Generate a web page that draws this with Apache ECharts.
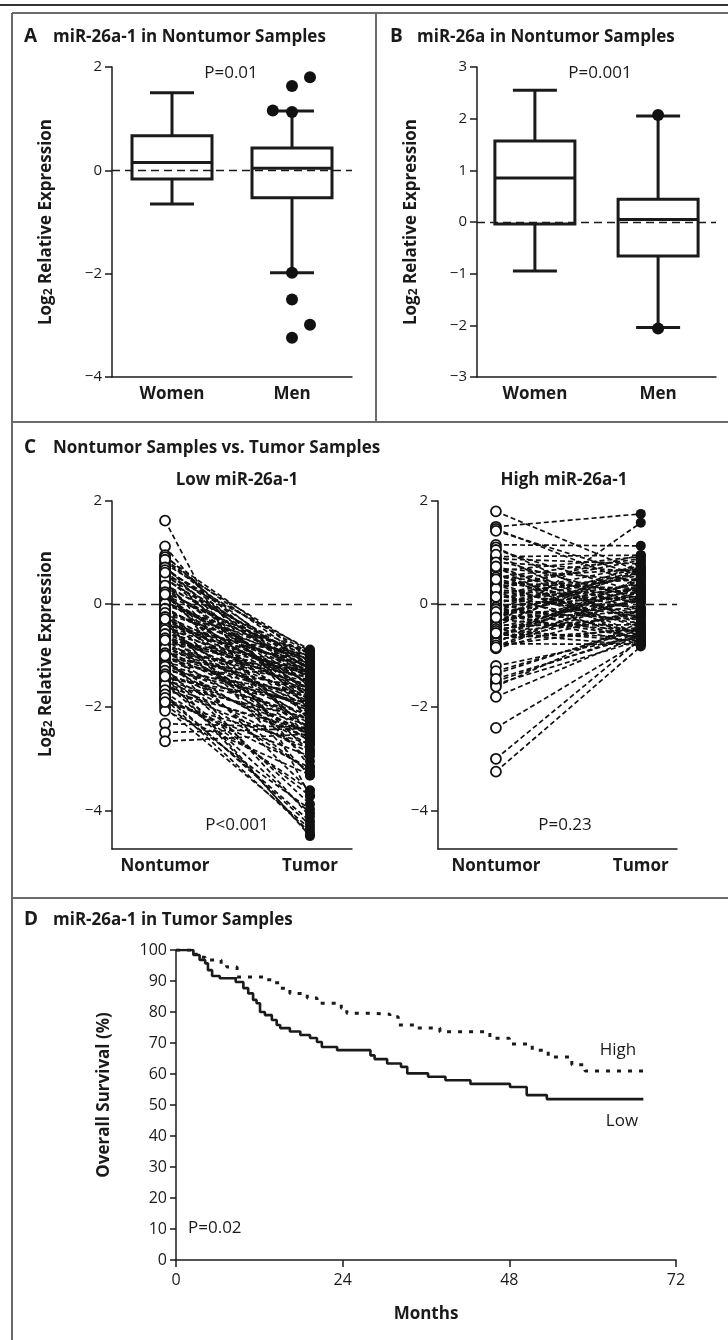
<!DOCTYPE html>
<html><head><meta charset="utf-8">
<script src="https://cdn.jsdelivr.net/npm/echarts@6/dist/echarts.min.js"></script>
<style>html,body{margin:0;padding:0;background:#fff}#c{width:728px;height:1340px}</style>
</head><body><div id="c"></div>
<script>
// ---------------- DATA ----------------
const sexCategories = ['Women', 'Men'];
const pairCategories = ['Nontumor', 'Tumor'];
// box plots: [min, Q1, median, Q3, max]
const boxA = [[-0.65, -0.17, 0.15, 0.67, 1.5], [-1.98, -0.53, 0.04, 0.43, 1.15]];
const outlierAx = [2, 1.84, 2, 2.15, 2, 2, 2.15, 2];
const outlierAy = [1.13, 1.16, 1.63, 1.8, -1.98, -2.5, -2.99, -3.24];
const boxB = [[-0.95, -0.04, 0.85, 1.57, 2.55], [-2.04, -0.66, 0.05, 0.44, 2.05]];
const outlierBx = [2, 2];
const outlierBy = [2.07, -2.06];
const yTicksA = [-4, -2, 0, 2];
const yTicksB = [-3, -2, -1, 0, 1, 2, 3];
const yTicksC = [-4, -2, 0, 2];

// Panel C, paired samples
const lowNontumor = [1.62, 1.12, 0.95, 0.91, 0.84, 0.78, 0.74, 0.69, 0.63, 0.58, 0.52, 0.47, 0.44, 0.39, 0.33, 0.31, 0.26, 0.21, 0.17, 0.12, 0.08, 0.04, -0.02, -0.06, -0.11, -0.14, -0.19, -0.23, -0.27, -0.31, -0.36, -0.38, -0.43, -0.47, -0.52, -0.55, -0.61, -0.64, -0.68, -0.72, -0.77, -0.81, -0.84, -0.88, -0.93, -0.97, -1.02, -1.06, -1.11, -1.14, -1.19, -1.24, -1.27, -1.33, -1.38, -1.42, -1.47, -1.53, -1.58, -1.63, -1.71, -1.79, -1.84, -1.88, -1.95, -2.01, -2.07, -2.32, -2.49, -2.66, 0.55, 0.05, -0.4, -0.9, -1.3, -0.2, 0.3, -0.6,
  0.86, 0.71, 0.66, 0.49, 0.36, 0.23, 0.14, 0.01, -0.09, -0.17, -0.25, -0.33, -0.45, -0.5, -0.58, -0.66, -0.74, -0.79, -0.86, -0.95, -0.99, -1.04, -1.09, -1.17, -1.21, -1.29, -1.36, -1.44, -1.51, -1.56, -1.67, -1.75, -1.82, -1.9, 0.61, 0.19, -0.29, -0.7, -1.0, -1.4];
const lowTumor = [-3.72, -2.28, -1.62, -1.05, -1.31, -0.92, -2.05, -1.18, -1.47, -0.88, -1.76, -1.12, -2.62, -1.35, -0.97, -1.58, -1.24, -2.21, -1.02, -1.44, -1.87, -1.15, -0.94, -1.66, -1.29, -2.43, -1.08, -1.52, -1.94, -1.21, -3.05, -1.39, -1.71, -0.99, -2.12, -1.33, -1.84, -1.48, -2.67, -1.26, -1.97, -1.57, -3.62, -1.42, -2.31, -1.69, -2.02, -1.81, -2.74, -1.62, -2.25, -3.88, -1.93, -2.48, -2.14, -3.24, -2.36, -4.05, -2.58, -2.81, -3.61, -4.21, -4.42, -2.95, -3.98, -4.35, -3.31, -2.39, -2.41, -2.52, -1.19, -1.36, -1.05, -2.18, -4.5, -2.86, -3.15, -2.55,
  -1.12, -1.41, -0.95, -1.27, -1.83, -1.09, -1.68, -1.22, -1.54, -0.91, -1.77, -1.46, -2.27, -1.14, -1.62, -2.08, -1.35, -2.41, -1.88, -1.28, -2.56, -1.49, -3.27, -1.99, -2.64, -1.73, -2.89, -1.91, -3.72, -2.22, -2.47, -4.28, -3.17, -2.71, -2.01, -2.49, -3.33, -1.18, -4.12, -4.47];
const highNontumor = [1.8, 1.5, 1.46, 1.15, 1.1, 0.92, 0.88, 0.85, 0.75, 0.7, 0.64, 0.6, 0.55, 0.5, 0.46, 0.41, 0.37, 0.32, 0.28, 0.24, 0.2, 0.16, 0.12, 0.08, 0.04, 0.0, -0.04, -0.08, -0.12, -0.16, -0.2, -0.24, -0.28, -0.33, -0.37, -0.4, -0.41, -0.45, -0.5, -0.54, -0.58, -0.63, -0.67, -0.72, -0.77, -0.82, -0.86, -1.2, -1.35, -1.5, -1.55, -1.6, -1.8, -2.4, -3.0, -3.25,
  1.42, 1.05, 0.96, 0.81, 0.67, 0.58, 0.52, 0.43, 0.35, 0.26, 0.18, 0.1, 0.02, -0.06, -0.1, -0.18, -0.22, -0.3, -0.35, -0.43, -0.48, -0.52, -0.6, -0.65, -0.7, -0.75, -0.8, -0.84, 0.73, 0.3, -0.15, 0.48, -0.56, 0.14, -0.26, -1.3, -1.45];
const highTumor = [0.62, 1.75, 0.35, 1.13, -0.2, 0.95, 0.78, 0.1, -0.35, 0.45, 0.92, -0.6, 0.2, 0.68, -0.1, 0.3, -0.45, 0.85, 0.05, -0.7, 0.5, -0.25, 0.6, -0.05, 0.38, -0.55, 0.15, 0.72, -0.3, 0.25, -0.65, 0.42, -0.15, 0.05, 0.66, 1.58, -0.4, 0.18, -0.72, 0.33, -0.2, 0.48, -0.5, 0.12, -0.78, 0.28, -0.1, -0.62, -0.45, -0.55, -0.7, -0.35, -0.6, -0.72, -0.68, -0.82,
  0.55, 0.22, -0.42, 0.63, 0.05, -0.28, 0.88, -0.62, 0.47, -0.18, 0.74, -0.38, 0.56, -0.66, 0.32, -0.08, 0.61, -0.52, 0.22, 0.81, -0.25, 0.09, -0.62, 0.38, -0.15, 0.52, -0.45, 0.15, -0.76, 0.95, -0.78, 0.02, -0.8, 0.27, 0.69, -0.5, -0.6];

// Panel D, Kaplan-Meier
const lowMonths = [0, 2.5, 3.4, 4.2, 4.6, 5.2, 6.3, 8.6, 9.7, 10.4, 11.1, 11.6, 12.1, 12.8, 13.8, 14.5, 15.0, 16.4, 17.9, 19.3, 20.3, 21.0, 23.2, 28.0, 28.6, 30.4, 32.4, 33.3, 36.3, 38.8, 42.4, 48.1, 50.5, 53.4, 67.3];
const lowSurvival = [100, 98.4, 96.8, 95.7, 93.5, 91.6, 90.9, 89.7, 87.7, 86.0, 83.9, 82.8, 80.0, 79.0, 77.4, 75.8, 74.8, 73.7, 72.6, 71.6, 70.3, 68.7, 67.7, 66.0, 64.8, 63.4, 62.3, 60.2, 59.1, 58.0, 56.8, 55.8, 53.2, 51.9, 51.9];
const highMonths = [0, 2.6, 3.2, 4.2, 6.5, 7.3, 8.8, 12.8, 14.0, 15.0, 16.4, 18.9, 20.3, 23.8, 24.6, 28.4, 30.8, 32.0, 34.7, 38.0, 45.2, 48.0, 51.3, 53.6, 57.0, 58.9, 67.3];
const highSurvival = [100, 98.6, 97.7, 96.8, 95.5, 94.5, 91.3, 90.4, 89.4, 87.7, 86.0, 84.5, 82.8, 81.2, 79.6, 79.3, 78.5, 75.8, 74.8, 73.6, 71.5, 69.7, 67.7, 65.5, 63.0, 61.0, 61.0];

// ---------------- STYLE ----------------
const INK = '#1a1a1a';
const REG = "'Open Sans', 'Noto Sans', sans-serif";
const frameCol = '#6b6b6b';

function boxRender(params, api) {
  const x = api.value(0);
  const lo = api.coord([x, api.value(1)]);
  const q1 = api.coord([x, api.value(2)]);
  const md = api.coord([x, api.value(3)]);
  const q3 = api.coord([x, api.value(4)]);
  const hi = api.coord([x, api.value(5)]);
  const half = 40, cap = 22, cx = lo[0];
  const st = { stroke: INK, lineWidth: 3, fill: null };
  return { type: 'group', children: [
    { type: 'line', shape: { x1: cx, y1: lo[1], x2: cx, y2: q1[1] }, style: st },
    { type: 'line', shape: { x1: cx, y1: q3[1], x2: cx, y2: hi[1] }, style: st },
    { type: 'line', shape: { x1: cx - cap, y1: lo[1], x2: cx + cap, y2: lo[1] }, style: st },
    { type: 'line', shape: { x1: cx - cap, y1: hi[1], x2: cx + cap, y2: hi[1] }, style: st },
    { type: 'rect', shape: { x: cx - half, y: q3[1], width: 2 * half, height: q1[1] - q3[1] }, style: { stroke: INK, lineWidth: 3, fill: 'rgba(0,0,0,0)' } },
    { type: 'line', shape: { x1: cx - half, y1: md[1], x2: cx + half, y2: md[1] }, style: st }
  ]};
}

const logName = '{m|Log}{s|2}{m| Relative Expression}';
function logNameStyle(padLeft) {
  return {
    padding: [0, 0, 0, padLeft],
    rich: {
      m: { fontFamily: REG, fontWeight: 'bold', fontSize: 17, color: INK, lineHeight: 17, verticalAlign: 'top' },
      s: { fontFamily: REG, fontWeight: 'bold', fontSize: 12, color: INK, lineHeight: 12, padding: [6, 0, 0, 0], verticalAlign: 'bottom' }
    }
  };
}

function catX(gi, min, max, cats) {
  return {
    type: 'value', gridIndex: gi, min: min, max: max,
    splitLine: { show: false },
    axisLine: { show: true, onZero: false, lineStyle: { color: INK, width: 1.5 } },
    axisTick: { show: false },
    axisLabel: { customValues: [1, 2], formatter: v => cats[Math.round(v) - 1], margin: 9,
      fontFamily: REG, fontWeight: 'bold', fontSize: 17, color: INK }
  };
}
function valY(gi, min, max, ticks, padLeft) {
  return {
    type: 'value', gridIndex: gi, min: min, max: max,
    splitLine: { show: false },
    axisLine: { show: true, onZero: false, lineStyle: { color: INK, width: 1.5 } },
    axisTick: { show: true, inside: false, length: 7, customValues: ticks, lineStyle: { color: INK, width: 1.5 } },
    axisLabel: { customValues: ticks, margin: 10, fontFamily: REG, fontSize: 15, color: INK,
      formatter: v => (v < 0 ? '\u2212' + Math.abs(v) : String(v)) },
    name: logName, nameLocation: 'middle', nameRotate: 90, nameGap: 57, nameMoveOverlap: false,
    nameTextStyle: logNameStyle(padLeft)
  };
}
const zeroLine = { silent: true, symbol: 'none', label: { show: false },
  lineStyle: { color: INK, type: [8, 5], width: 1.4 }, data: [{ yAxis: 0 }] };

const boxDataA = boxA.map((b, i) => [i + 1].concat(b));
const boxDataB = boxB.map((b, i) => [i + 1].concat(b));
const outA = outlierAx.map((x, i) => [x, outlierAy[i]]);
const outB = outlierBx.map((x, i) => [x, outlierBy[i]]);
const lowLines = lowNontumor.map((v, i) => ({ coords: [[1, v], [2, lowTumor[i]]] }));
const highLines = highNontumor.map((v, i) => ({ coords: [[1, v], [2, highTumor[i]]] }));
const lowNPts = lowNontumor.map(v => [1, v]);
const lowTPts = lowTumor.map(v => [2, v]);
const highNPts = highNontumor.map(v => [1, v]);
const highTPts = highTumor.map(v => [2, v]);
const lowKM = lowMonths.map((m, i) => [m, lowSurvival[i]]);
const highKM = highMonths.map((m, i) => [m, highSurvival[i]]);

function txt(x, y, text, opts) {
  return { type: 'text', x: x, y: y, silent: true, z: 100,
    style: Object.assign({ text: text, fill: INK, font: '17px ' + REG, align: 'left', verticalAlign: 'middle' }, opts || {}) };
}
function ln(x1, y1, x2, y2, w, c) {
  return { type: 'line', silent: true, shape: { x1, y1, x2, y2 }, style: { stroke: c || frameCol, lineWidth: w || 2 } };
}
const BOLD17 = 'bold 17px ' + REG;
const BOLD19 = 'bold 19px ' + REG;

const lineStyleC = { color: '#111', width: 1.7, type: [5, 3], opacity: 1, curveness: 0 };
const hollow = { color: '#fff', borderColor: '#111', borderWidth: 1.8, opacity: 1 };
const filled = { color: '#111', opacity: 1 };

const option = {
  animation: false,
  backgroundColor: '#fff',
  grid: [
    { left: 112, top: 67, width: 240, height: 310, outerBoundsMode: 'none' },
    { left: 477, top: 67, width: 239, height: 310, outerBoundsMode: 'none' },
    { left: 112, top: 501, width: 240, height: 348, outerBoundsMode: 'none' },
    { left: 438, top: 501, width: 239, height: 348, outerBoundsMode: 'none' },
    { left: 176, top: 950, width: 500, height: 310, outerBoundsMode: 'none' }
  ],
  xAxis: [
    catX(0, 0.5, 2.5, sexCategories),
    catX(1, 0.53, 2.47, sexCategories),
    catX(2, 0.634, 2.29, pairCategories),
    catX(3, 0.6, 2.25, pairCategories),
    { type: 'value', gridIndex: 4, min: 0, max: 72, interval: 24,
      splitLine: { show: false },
      axisLine: { show: true, onZero: false, lineStyle: { color: INK, width: 1.5 } },
      axisTick: { show: true, length: 7, lineStyle: { color: INK, width: 1.5 } },
      axisLabel: { margin: 12, fontFamily: REG, fontSize: 16, color: INK },
      name: 'Months', nameLocation: 'middle', nameGap: 46,
      nameTextStyle: { fontFamily: REG, fontWeight: 'bold', fontSize: 17, color: INK } }
  ],
  yAxis: [
    valY(0, -4, 2, yTicksA, 0),
    valY(1, -3, 3, yTicksB, 0),
    valY(2, -4.75, 2, yTicksC, 42),
    Object.assign(valY(3, -4.75, 2, yTicksC, 0), { name: '' }),
    { type: 'value', gridIndex: 4, min: 0, max: 100, interval: 10,
      splitLine: { show: false },
      axisLine: { show: true, onZero: false, lineStyle: { color: INK, width: 1.5 } },
      axisTick: { show: true, length: 6, lineStyle: { color: INK, width: 1.5 } },
      axisLabel: { margin: 9, fontFamily: REG, fontSize: 16, color: INK },
      name: 'Overall Survival (%)', nameLocation: 'middle', nameRotate: 90, nameGap: 63, nameMoveOverlap: false,
      nameTextStyle: { fontFamily: REG, fontWeight: 'bold', fontSize: 17, color: INK, padding: [0, 0, 0, 20] } }
  ],
  series: [
    // Panel A
    { type: 'custom', xAxisIndex: 0, yAxisIndex: 0, data: boxDataA, renderItem: boxRender,
      encode: { x: 0, y: [1, 2, 3, 4, 5] }, markLine: zeroLine, z: 2 },
    { type: 'scatter', xAxisIndex: 0, yAxisIndex: 0, data: outA, symbolSize: 12, itemStyle: filled, z: 4 },
    // Panel B
    { type: 'custom', xAxisIndex: 1, yAxisIndex: 1, data: boxDataB, renderItem: boxRender,
      encode: { x: 0, y: [1, 2, 3, 4, 5] }, markLine: zeroLine, z: 2 },
    { type: 'scatter', xAxisIndex: 1, yAxisIndex: 1, data: outB, symbolSize: 12, itemStyle: filled, z: 4 },
    // Panel C low
    { type: 'lines', coordinateSystem: 'cartesian2d', xAxisIndex: 2, yAxisIndex: 2, data: lowLines,
      lineStyle: lineStyleC, z: 2, markLine: zeroLine },
    { type: 'scatter', xAxisIndex: 2, yAxisIndex: 2, data: lowNPts, symbolSize: 10, itemStyle: hollow, z: 3 },
    { type: 'scatter', xAxisIndex: 2, yAxisIndex: 2, data: lowTPts, symbolSize: 10, itemStyle: filled, z: 3 },
    // Panel C high
    { type: 'lines', coordinateSystem: 'cartesian2d', xAxisIndex: 3, yAxisIndex: 3, data: highLines,
      lineStyle: lineStyleC, z: 2, markLine: zeroLine },
    { type: 'scatter', xAxisIndex: 3, yAxisIndex: 3, data: highNPts, symbolSize: 10, itemStyle: hollow, z: 3 },
    { type: 'scatter', xAxisIndex: 3, yAxisIndex: 3, data: highTPts, symbolSize: 10, itemStyle: filled, z: 3 },
    // Panel D
    { type: 'line', xAxisIndex: 4, yAxisIndex: 4, data: highKM, step: 'end', showSymbol: false, symbol: 'none',
      lineStyle: { color: INK, width: 3, type: [4, 7] }, z: 3 },
    { type: 'line', xAxisIndex: 4, yAxisIndex: 4, data: lowKM, step: 'end', showSymbol: false, symbol: 'none',
      lineStyle: { color: INK, width: 2.6 }, z: 3 }
  ],
  graphic: [
    ln(0, 5, 728, 5, 2, '#333'),
    ln(12, 13, 728, 13, 2),
    ln(12, 13, 12, 1340, 2),
    ln(376, 13, 376, 422, 2),
    ln(12, 422, 728, 422, 2),
    ln(12, 898, 728, 898, 2),
    txt(24, 37, 'A', { font: BOLD19 }),
    txt(53, 37, 'miR-26a-1 in Nontumor Samples', { font: BOLD17 }),
    txt(390, 37, 'B', { font: BOLD19 }),
    txt(417, 37, 'miR-26a in Nontumor Samples', { font: BOLD17 }),
    txt(24, 448, 'C', { font: BOLD19 }),
    txt(53, 448, 'Nontumor Samples vs. Tumor Samples', { font: BOLD17 }),
    txt(237, 480, 'Low miR-26a-1', { font: BOLD17, align: 'center' }),
    txt(564, 480, 'High miR-26a-1', { font: BOLD17, align: 'center' }),
    txt(24, 920, 'D', { font: BOLD19 }),
    txt(53, 920, 'miR-26a-1 in Tumor Samples', { font: BOLD17 }),
    txt(231, 73, 'P=0.01', { align: 'center' }),
    txt(600, 73, 'P=0.001', { align: 'center' }),
    txt(237, 825, 'P<0.001', { align: 'center' }),
    txt(565, 825, 'P=0.23', { align: 'center' }),
    txt(188, 1228, 'P=0.02', {}),
    txt(618, 1050, 'High', { align: 'center' }),
    txt(622, 1121, 'Low', { align: 'center' })
  ]
};
const chart = echarts.init(document.getElementById('c'), null, { renderer: 'canvas' });
chart.setOption(option);
</script></body></html>
